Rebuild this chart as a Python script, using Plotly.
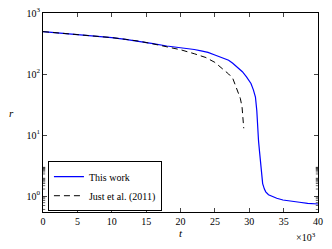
import plotly.graph_objects as go
import math

# time in units of 10^3
t_this = [0, 2, 4, 6, 8, 10, 12, 14, 16, 18, 19, 20, 21, 22, 23, 24, 25, 26, 27, 27.6,
          28.2, 29.0, 29.6, 30.25, 30.6, 30.9, 31.1, 31.2, 31.35, 31.5, 31.7, 31.95,
          32.2, 32.4, 32.8, 33.4, 34.0, 34.9, 36, 37.3, 38.5, 40]
r_this = [495, 475, 455, 435, 415, 395, 370, 345, 315, 288, 280, 272, 263, 252, 240, 226,
          205, 188, 168, 150, 130, 109, 90, 70, 55, 42, 25, 14.6, 8, 5.3, 3, 1.6,
          1.3, 1.17, 1.05, 0.98, 0.92, 0.86, 0.82, 0.79, 0.76, 0.74]

t_just = [0, 2, 4, 6, 8, 10, 12, 14, 16, 18, 19.3, 20, 22, 23.7, 25, 26.1, 27, 27.6,
          28.3, 28.7, 28.95, 29.1, 29.2]
r_just = [495, 475, 455, 435, 415, 395, 370, 345, 312, 280, 263, 250, 215, 186, 155, 124,
          100, 85, 55, 40, 29, 14.5, 12.9]

x_ticks = [0, 5, 10, 15, 20, 25, 30, 35, 40]
y_tickvals = [1, 10, 100, 1000]
y_ticktext = ["10<sup>0</sup>", "10<sup>1</sup>", "10<sup>2</sup>", "10<sup>3</sup>"]
y_minor = [m * 10 ** e for e in range(-1, 3) for m in range(2, 10)]

font = "Liberation Serif, Times New Roman, serif"

fig = go.Figure()
fig.add_trace(go.Scatter(x=t_this, y=r_this, mode="lines", name="This work",
                         line=dict(color="#0000ff", width=1.2)))
fig.add_trace(go.Scatter(x=t_just, y=r_just, mode="lines", name="Just et al. (2011)",
                         line=dict(color="black", width=1, dash="6px,4px")))

ymin_log, ymax_log = -0.262, 3
fig.update_layout(
    width=332, height=249,
    margin=dict(l=43, r=14, t=13, b=37, autoexpand=False),
    paper_bgcolor="white", plot_bgcolor="white",
    font=dict(family=font, size=10, color="black"),
    showlegend=True,
    legend=dict(x=0.018, y=0.004, xanchor="left", yanchor="bottom",
                bordercolor="black", borderwidth=1, bgcolor="white",
                font=dict(family=font, size=10), tracegroupgap=0,
                itemwidth=30),
)
fig.update_xaxes(
    range=[0, 40], tickvals=x_ticks, ticks="inside", ticklen=4, tickwidth=0.8,
    showline=True, linecolor="black", linewidth=1, mirror="allticks",
    showgrid=False, zeroline=False, automargin=False,
)
fig.update_yaxes(
    type="log", range=[ymin_log, ymax_log], tickvals=y_tickvals, ticktext=y_ticktext,
    ticks="inside", ticklen=4, tickwidth=0.8,
    showline=True, linecolor="black", linewidth=1, mirror="allticks",
    showgrid=False, zeroline=False, automargin=False,
)
# minor log ticks on left and right edges
for v in y_minor:
    lv = math.log10(v)
    if ymin_log < lv < ymax_log:
        for x0, x1 in ((0, 0.008), (0.992, 1)):
            fig.add_shape(type="line", xref="paper", yref="y", x0=x0, x1=x1, y0=lv, y1=lv,
                          line=dict(color="black", width=0.6))

fig.add_annotation(text="<i>t</i>", xref="paper", yref="paper",
                   x=0.5, y=-0.105, xanchor="center", yanchor="middle", showarrow=False,
                   font=dict(family=font, size=11))
fig.add_annotation(text="<i>r</i>", xref="paper", yref="paper",
                   x=-0.115, y=0.5, xanchor="center", yanchor="middle", showarrow=False,
                   font=dict(family=font, size=11))
fig.add_annotation(text="×10<sup>3</sup>", xref="paper", yref="paper",
                   x=1.0, y=-0.125, xanchor="right", yanchor="middle", showarrow=False,
                   font=dict(family=font, size=10))

fig.write_html("out.html", post_script="document.body.style.margin='0';",
               config={"displayModeBar": False})
